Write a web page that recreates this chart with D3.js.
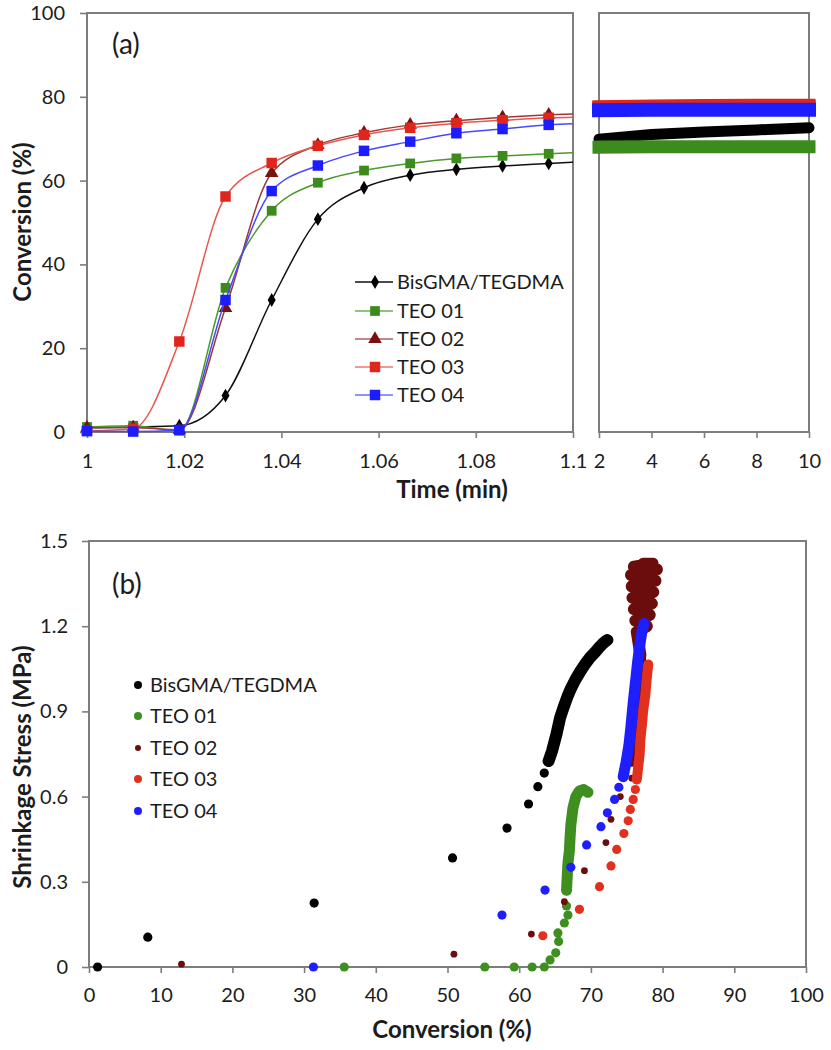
<!DOCTYPE html>
<html><head><meta charset="utf-8">
<script src="https://cdn.jsdelivr.net/npm/d3@7"></script>
<style>
body{margin:0;background:#fff}
svg{display:block}
text{font-family:Lato,'Open Sans',sans-serif;fill:#1c1c1c}
</style>
</head><body><svg id="chart" width="831" height="1050"></svg>
<script>
// ---------- Panel (a) data: conversion (%) vs time (min) ----------
const seriesNames = ["BisGMA/TEGDMA", "TEO 01", "TEO 02", "TEO 03", "TEO 04"];
const timeEarly = [1.0, 1.0095, 1.019, 1.0285, 1.038, 1.0475, 1.057, 1.0665, 1.076, 1.0855, 1.095, 1.1045];
const bisEarly  = [1.0, 1.2, 1.5, 8.7, 31.5, 50.8, 58.3, 61.3, 62.7, 63.5, 64.1, 64.7];
const teo01Early = [1.2, 1.5, 0.3, 34.4, 52.8, 59.5, 62.4, 64.1, 65.3, 65.9, 66.4, 66.9];
const teo02Early = [1.0, 1.0, 0.5, 29.6, 61.8, 68.5, 71.4, 73.3, 74.3, 75.1, 75.7, 76.1];
const teo03Early = [0.3, 0.8, 21.6, 56.2, 64.2, 68.3, 70.9, 72.6, 73.7, 74.4, 75.0, 75.2];
const teo04Early = [0.2, 0.1, 0.5, 31.5, 57.5, 63.6, 67.1, 69.3, 71.3, 72.3, 73.3, 73.7];

const timeLate  = [2, 4, 6, 8, 10];
const bisLate   = [69.9, 71.0, 71.6, 72.1, 72.6];
const teo01Late = [68.0, 68.1, 68.1, 68.1, 68.1];
const teo02Late = [77.5, 77.6, 77.6, 77.7, 77.7];
const teo03Late = [77.6, 77.8, 77.9, 78.0, 78.0];
const teo04Late = [76.8, 76.9, 76.9, 76.9, 76.9];

const ticksConvA = [0, 20, 40, 60, 80, 100];
const ticksTimeEarly = [1, 1.02, 1.04, 1.06, 1.08, 1.1];
const ticksTimeLate = [2, 4, 6, 8, 10];

// ---------- Panel (b) data: shrinkage stress (MPa) vs conversion (%) ----------
const bisConv   = [1.2, 8.2, 31.4, 50.7, 58.3, 61.3, 62.6, 63.5, 64.1, 64.6, 65.2, 65.7, 66.2, 66.7, 67.2, 67.8, 68.5, 69.2, 69.9, 70.6, 71.1, 71.6, 72.0, 72.3];
const bisStress = [0, 0.105, 0.225, 0.384, 0.489, 0.574, 0.635, 0.683, 0.725, 0.762, 0.82, 0.877, 0.915, 0.95, 0.98, 1.01, 1.04, 1.067, 1.09, 1.109, 1.124, 1.137, 1.146, 1.151];

const teo01Conv   = [35.6, 55.2, 59.3, 61.8, 63.5, 64.3, 65.1, 65.5, 65.4, 66.3, 66.8, 66.6, 66.6, 66.7, 66.8, 67.0, 67.1, 67.2, 67.5, 67.9, 68.4, 69.0, 69.6];
const teo01Stress = [0, 0, 0, 0, 0, 0.025, 0.05, 0.09, 0.12, 0.155, 0.183, 0.215, 0.27, 0.32, 0.366, 0.41, 0.459, 0.5, 0.56, 0.6, 0.62, 0.625, 0.615];

const teo02Conv   = [12.9, 50.9, 61.7, 66.3, 69.1, 72.1, 72.8, 74.1, 75.7, 75.7, 76.0, 76.3, 76.6, 76.9, 76.4, 77.8, 76.2, 78.2, 76.0, 78.5, 75.8, 78.7, 75.7, 79.0, 75.6, 79.2, 76.0, 78.6, 77.3];
const teo02Stress = [0.01, 0.045, 0.116, 0.23, 0.339, 0.438, 0.52, 0.6, 0.665, 0.726, 0.8, 0.9, 1.0, 1.1, 1.18, 1.2, 1.22, 1.24, 1.26, 1.28, 1.30, 1.32, 1.34, 1.36, 1.38, 1.40, 1.41, 1.42, 1.42];

const teo03Conv   = [63.3, 68.4, 71.2, 72.8, 73.6, 74.6, 75.2, 75.5, 75.9, 76.2, 76.4, 76.6, 76.8, 76.9, 77.1, 77.3, 77.6, 77.8, 78.0];
const teo03Stress = [0.11, 0.203, 0.283, 0.356, 0.414, 0.47, 0.515, 0.555, 0.59, 0.625, 0.66, 0.705, 0.75, 0.8, 0.85, 0.905, 0.96, 1.02, 1.065];

const teo04Conv   = [31.3, 57.6, 63.6, 67.2, 69.4, 71.4, 72.3, 73.3, 73.9, 74.5, 74.9, 75.3, 75.6, 75.9, 76.2, 76.5, 76.8, 77.1, 77.4];
const teo04Stress = [0, 0.183, 0.271, 0.351, 0.43, 0.494, 0.543, 0.59, 0.633, 0.67, 0.72, 0.78, 0.85, 0.93, 1.0, 1.07, 1.13, 1.18, 1.21];

const ticksStress = [0, 0.3, 0.6, 0.9, 1.2, 1.5];
const ticksConvB = [0, 10, 20, 30, 40, 50, 60, 70, 80, 90, 100];

// ---------- styles ----------
const AXIS = "#7d7d7d";
const TICK_FS = 20, TITLE_FS = 24, LEG_FS = 20, TAG_FS = 28;
const markerColors = ["#000000", "#3b8c1d", "#7a1010", "#e0261c", "#1c1cff"];
const lineColors   = ["#111111", "#4a9a2c", "#9a3a38", "#e8574c", "#4848ff"];
const dotColors    = ["#000000", "#3f8f20", "#6b0d0d", "#e2301f", "#1e1eff"];

const svg = d3.select("#chart");

// ---------- Panel (a) scales ----------
const xE = d3.scaleLinear().domain([1, 1.1]).range([87, 573]);
const xL = d3.scaleLinear().domain([2, 10]).range([599, 809]);
const yA = d3.scaleLinear().domain([0, 100]).range([432, 13]);

function styleAxis(g, fs) {
  g.select(".domain").remove();
  g.selectAll(".tick line").attr("stroke", AXIS).attr("stroke-width", 1.6);
  g.selectAll(".tick text").style("font-size", fs + "px").attr("fill", "#1c1c1c");
}

// frames
svg.append("rect").attr("x", 87).attr("y", 13).attr("width", 573 - 87).attr("height", 432 - 13)
  .attr("fill", "none").attr("stroke", AXIS).attr("stroke-width", 2);
svg.append("rect").attr("x", 599).attr("y", 13).attr("width", 809 - 599).attr("height", 432 - 13)
  .attr("fill", "none").attr("stroke", AXIS).attr("stroke-width", 2);

svg.append("g").attr("transform", "translate(87,0)")
  .call(d3.axisLeft(yA).tickValues(ticksConvA).tickSize(7).tickPadding(15).tickFormat(d3.format("d")))
  .call(g => styleAxis(g, TICK_FS));
svg.append("g").attr("transform", "translate(0,432)")
  .call(d3.axisBottom(xE).tickValues(ticksTimeEarly).tickSize(6).tickPadding(16).tickFormat(d => String(+d.toFixed(2))))
  .call(g => styleAxis(g, TICK_FS));
svg.append("g").attr("transform", "translate(0,432)")
  .call(d3.axisBottom(xL).tickValues(ticksTimeLate).tickSize(6).tickPadding(16).tickFormat(d3.format("d")))
  .call(g => styleAxis(g, TICK_FS));

// clip for early curves
svg.append("clipPath").attr("id", "clipE").append("rect")
  .attr("x", 87).attr("y", 0).attr("width", 573 - 87).attr("height", 440);

const early = [bisEarly, teo01Early, teo02Early, teo03Early, teo04Early];
const late = [bisLate, teo01Late, teo02Late, teo03Late, teo04Late];
const symbols = [d3.symbolDiamond, d3.symbolSquare, d3.symbolTriangle, d3.symbolSquare, d3.symbolSquare];
const symSizes = [55, 95, 80, 110, 110];

const lineE = d3.line().x(d => xE(d[0])).y(d => yA(d[1])).curve(d3.curveMonotoneX);
const lineL = d3.line().x(d => xL(d[0])).y(d => yA(d[1]));

// late bands (order: black, green, brown, red, blue)
const bandW = [11, 13, 13, 13, 14];
late.forEach((vals, i) => {
  const pts = timeLate.map((t, j) => [t, vals[j]]);
  svg.append("path").attr("d", lineL(pts)).attr("fill", "none")
    .attr("stroke", markerColors[i]).attr("stroke-width", bandW[i])
    .attr("stroke-linecap", i === 0 ? "round" : "square");
});

early.forEach((vals, i) => {
  const pts = timeEarly.map((t, j) => [t, vals[j]]);
  svg.append("path").attr("d", lineE(pts)).attr("fill", "none")
    .attr("stroke", lineColors[i]).attr("stroke-width", 1.5).attr("clip-path", "url(#clipE)");
  svg.selectAll(null).data(pts.filter(p => p[0] <= 1.1)).enter().append("path")
    .attr("transform", p => `translate(${xE(p[0])},${yA(p[1])})`)
    .attr("d", d3.symbol(symbols[i], symSizes[i])())
    .attr("fill", markerColors[i]);
});

// legend (a)
const legAy = [282, 311, 339, 367, 395];
seriesNames.forEach((name, i) => {
  const y = legAy[i];
  svg.append("line").attr("x1", 355).attr("x2", 393).attr("y1", y).attr("y2", y)
    .attr("stroke", lineColors[i]).attr("stroke-width", 1.6).attr("opacity", i === 0 ? 1 : 0.8);
  svg.append("path").attr("transform", `translate(375,${y})`)
    .attr("d", d3.symbol(symbols[i], symSizes[i])()).attr("fill", markerColors[i]);
  svg.append("text").attr("x", 397).attr("y", y).attr("dy", "0.35em")
    .style("font-size", LEG_FS + "px").text(name);
});

svg.append("text").attr("x", 112).attr("y", 54).style("font-size", TAG_FS + "px").text("(a)");
svg.append("text").attr("transform", "translate(31,222) rotate(-90)").attr("text-anchor", "middle")
  .style("font-size", TITLE_FS + "px").style("font-weight", "bold").text("Conversion (%)");
svg.append("text").attr("x", 452).attr("y", 498).attr("text-anchor", "middle")
  .style("font-size", TITLE_FS + "px").style("font-weight", "bold").text("Time (min)");

// ---------- Panel (b) ----------
const xB = d3.scaleLinear().domain([0, 100]).range([89, 806]);
const yB = d3.scaleLinear().domain([0, 1.5]).range([967, 541]);

svg.append("rect").attr("x", 89).attr("y", 541).attr("width", 806 - 89).attr("height", 967 - 541)
  .attr("fill", "none").attr("stroke", AXIS).attr("stroke-width", 2);
svg.append("g").attr("transform", "translate(89,0)")
  .call(d3.axisLeft(yB).tickValues(ticksStress).tickSize(7).tickPadding(14).tickFormat(d => String(+d.toFixed(1))))
  .call(g => styleAxis(g, TICK_FS));
svg.append("g").attr("transform", "translate(0,967)")
  .call(d3.axisBottom(xB).tickValues(ticksConvB).tickSize(6).tickPadding(15).tickFormat(d3.format("d")))
  .call(g => styleAxis(g, TICK_FS));

const scatter = [
  [bisConv, bisStress], [teo01Conv, teo01Stress], [teo02Conv, teo02Stress],
  [teo03Conv, teo03Stress], [teo04Conv, teo04Stress]
];
const dotR = [4.6, 4.6, 3.4, 4.6, 4.6];
const trailFrom = [8, 12, 9, 10, 9];
const trailW = [12, 11, 12, 10, 11];
const lineB = d3.line().x(d => xB(d[0])).y(d => yB(d[1]));

scatter.forEach(([cx, cy], i) => {
  const pts = cx.map((c, j) => [c, cy[j]]);
  svg.append("path").attr("d", lineB(pts.slice(trailFrom[i]))).attr("fill", "none")
    .attr("stroke", dotColors[i]).attr("stroke-width", trailW[i])
    .attr("stroke-linecap", "round").attr("stroke-linejoin", "round");
  svg.selectAll(null).data(pts).enter().append("circle")
    .attr("cx", p => xB(p[0])).attr("cy", p => yB(p[1])).attr("r", dotR[i])
    .attr("fill", dotColors[i]);
});

// legend (b)
const legBy = [685, 716, 748, 779, 811];
const legR = [4, 4, 3, 4, 4];
seriesNames.forEach((name, i) => {
  const y = legBy[i];
  svg.append("circle").attr("cx", 138).attr("cy", y).attr("r", legR[i]).attr("fill", dotColors[i]);
  svg.append("text").attr("x", 150).attr("y", y).attr("dy", "0.35em")
    .style("font-size", LEG_FS + "px").text(name);
});

svg.append("text").attr("x", 112).attr("y", 594).style("font-size", TAG_FS + "px").text("(b)");
svg.append("text").attr("transform", "translate(31,767) rotate(-90)").attr("text-anchor", "middle")
  .style("font-size", TITLE_FS + "px").style("font-weight", "bold").text("Shrinkage Stress (MPa)");
svg.append("text").attr("x", 452).attr("y", 1038).attr("text-anchor", "middle")
  .style("font-size", TITLE_FS + "px").style("font-weight", "bold").text("Conversion (%)");
</script></body></html>
